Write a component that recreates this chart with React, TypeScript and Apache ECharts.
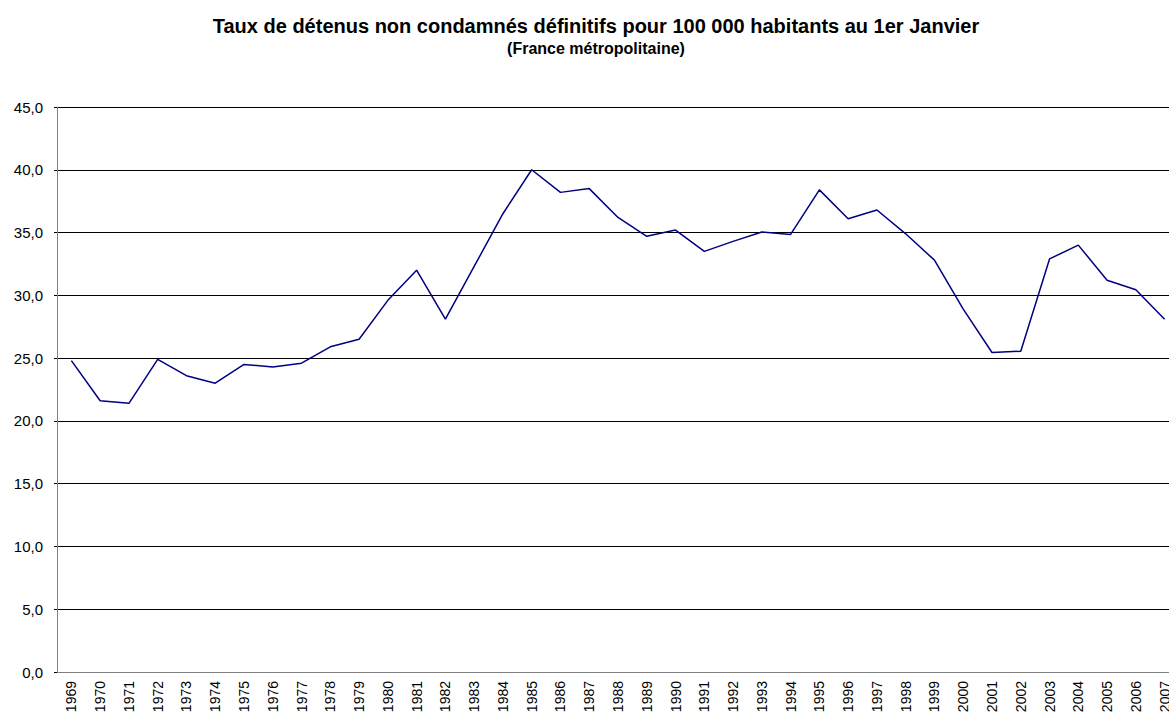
import React, { useEffect, useRef } from "react";
import * as echarts from "echarts";

const years: string[] = [
  "1969", "1970", "1971", "1972", "1973", "1974", "1975", "1976", "1977", "1978",
  "1979", "1980", "1981", "1982", "1983", "1984", "1985", "1986", "1987", "1988",
  "1989", "1990", "1991", "1992", "1993", "1994", "1995", "1996", "1997", "1998",
  "1999", "2000", "2001", "2002", "2003", "2004", "2005", "2006", "2007",
];

const rates: number[] = [
  24.8, 21.6, 21.4, 24.9, 23.6, 23.0, 24.5, 24.3, 24.6, 25.9,
  26.5, 29.6, 32.0, 28.1, 32.3, 36.5, 40.0, 38.2, 38.5, 36.2,
  34.7, 35.2, 33.5, 34.3, 35.05, 34.85, 38.4, 36.1, 36.8, 34.9,
  32.8, 28.9, 25.45, 25.55, 32.9, 34.0, 31.2, 30.45, 28.1,
];

const titleText = "Taux de détenus non condamnés définitifs pour 100 000 habitants au 1er Janvier";
const subtitleText = "(France métropolitaine)";

const FONT = "'Liberation Sans', Arial, sans-serif";

export default function App() {
  const ref = useRef<HTMLDivElement>(null);
  useEffect(() => {
    if (!ref.current) return;
    const chart = echarts.init(ref.current, null, { renderer: "svg" });
    chart.setOption({
      animation: false,
      backgroundColor: "#ffffff",
      textStyle: { fontFamily: FONT },
      title: {
        text: titleText,
        subtext: subtitleText,
        left: 591,
        textAlign: "center",
        top: 11,
        itemGap: 4,
        textStyle: {
          fontFamily: FONT,
          fontSize: 20,
          fontWeight: "bold",
          color: "#000000",
        },
        subtextStyle: {
          fontFamily: FONT,
          fontSize: 16,
          fontWeight: "bold",
          color: "#000000",
        },
      },
      grid: {
        left: 57,
        top: 107,
        width: 1122,
        bottom: 42,
        containLabel: false,
        outerBoundsMode: "none",
      },
      xAxis: {
        type: "category",
        data: years,
        boundaryGap: true,
        axisLine: { lineStyle: { color: "#808080", width: 1 } },
        axisTick: {
          inside: true,
          length: 5,
          alignWithLabel: false,
          lineStyle: { color: "#000000" },
        },
        axisLabel: {
          rotate: 90,
          interval: 0,
          margin: 9,
          fontSize: 14,
          color: "#000000",
          fontFamily: FONT,
        },
        splitLine: { show: false },
      },
      yAxis: {
        type: "value",
        min: 0,
        max: 45,
        interval: 5,
        axisLine: { show: true, lineStyle: { color: "#808080", width: 1 } },
        axisTick: { show: true, length: 3, lineStyle: { color: "#000000" } },
        axisLabel: {
          margin: 14,
          fontSize: 15,
          color: "#000000",
          fontFamily: FONT,
          formatter: (v: number) => v.toFixed(1).replace(".", ","),
        },
        splitLine: { show: true, lineStyle: { color: "#000000", width: 1 } },
      },
      series: [
        {
          type: "line",
          data: rates,
          symbol: "none",
          lineStyle: { color: "#000080", width: 1.5 },
          itemStyle: { color: "#000080" },
        },
      ],
    });
    return () => chart.dispose();
  }, []);
  return (
    <div
      style={{
        position: "fixed",
        left: 0,
        top: 0,
        width: 1169,
        height: 714,
        overflow: "hidden",
        background: "#ffffff",
      }}
    >
      <div ref={ref} style={{ width: 1190, height: 714 }} />
    </div>
  );
}
